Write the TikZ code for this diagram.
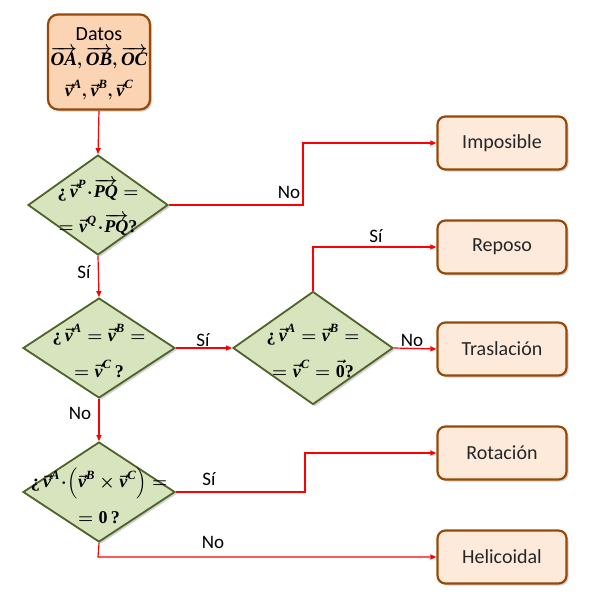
\documentclass[tikz,border=0pt]{standalone}
\usepackage{amsmath}
\usepackage{fontspec}
\setmainfont{Carlito}
\newfontfamily\serifb{Liberation Serif}
\usetikzlibrary{shapes.geometric,arrows.meta,shadows}
\definecolor{brd}{HTML}{984807}
\definecolor{datfill}{HTML}{FBD4B4}
\definecolor{boxfill}{HTML}{FDEADA}
\definecolor{dfill}{HTML}{D7E4BD}
\definecolor{dbrd}{HTML}{4F6228}
\tikzset{
  x=1pt,y=-1pt,
  resbox/.style={draw=brd,line width=2.2pt,rounded corners=8pt,fill=boxfill,
    minimum width=129pt,minimum height=53pt,inner sep=0pt,
    font=\fontsize{20}{24}\selectfont,text=black!85,
    drop shadow={shadow xshift=2pt,shadow yshift=-2pt,opacity=0.35}},
  datbox/.style={draw=brd,line width=2.2pt,rounded corners=10pt,fill=datfill,
    minimum width=102pt,minimum height=95pt,inner sep=0pt,
    drop shadow={shadow xshift=2pt,shadow yshift=-2pt,opacity=0.35}},
  dattext/.style={align=center,inner sep=0pt,font=\fontsize{19}{24}\selectfont\boldmath},
  dec/.style={diamond,draw=dbrd,line width=1.8pt,fill=dfill,inner sep=0pt,
    drop shadow={shadow xshift=2pt,shadow yshift=-2pt,opacity=0.35}},
  dectext/.style={align=center,font=\fontsize{18}{22}\selectfont\boldmath,inner sep=0pt},
  conn/.style={draw=red,line width=1.2pt,-{Triangle[length=6pt,width=5pt]}},
  lbl/.style={font=\fontsize{19}{22}\selectfont,text=black,inner sep=0pt}
}
\newcommand{\bi}[1]{{\serifb\bfseries\itshape #1}}
\newcommand{\vv}[1]{\vec{\text{\bi{v}}}^{\text{\bi{#1}}}}
\newcommand{\ov}[1]{\overrightarrow{\text{\bi{#1}}}}
\newcommand{\inv}{{\serifb\bfseries ¿}}
\newcommand{\qm}{{\serifb\bfseries ?}}
\begin{document}
\begin{tikzpicture}
\useasboundingbox (0,0) rectangle (600,600);
% Datos
\node[datbox] (dat) at (99,62) {};
\node[dattext] (dt1) at (99,34) {\fontsize{20}{24}\selectfont Datos};
\node[dattext] (dt2) at (99,58) {$\ov{OA},\ov{OB},\ov{OC}$};
\node[dattext,font=\fontsize{18}{22}\selectfont\boldmath] (dt3) at (99,90) {$\vv{A},\vv{B},\vv{C}$};
% decisions
\node[dec,minimum width=140pt,minimum height=100pt] (d1) at (98,205) {};
\node[dectext] (t1) at (98,207) {\inv$\,\vv{P}\!\cdot\!\ov{PQ}=$\\[12pt]$=\vv{Q}\!\cdot\!\ov{PQ}$\qm};
\node[dec,minimum width=152pt,minimum height=100pt] (d2) at (99,348) {};
\node[dectext] (t2) at (99,351) {\inv$\,\vv{A}=\vv{B}=$\\[14pt]$=\vv{C}\,$\qm};
\node[dec,minimum width=160pt,minimum height=113pt] (d3) at (313,348) {};
\node[dectext] (t3) at (313,351) {\inv$\,\vv{A}=\vv{B}=$\\[14pt]$=\vv{C}=\vec{\text{\serifb\bfseries 0}}$\qm};
\node[dec,minimum width=152pt,minimum height=100pt] (d4) at (99,492) {};
\node[dectext] (t4) at (99,496) {\inv$\,\vv{A}\!\cdot\!\left(\vv{B}\times\vv{C}\right)=$\\[12pt]$=\text{\serifb\bfseries 0}\,$\qm};
% results
\node[resbox] (imp) at (502,143) {Imposible};
\node[resbox] (rep) at (502,247) {Reposo};
\node[resbox] (tra) at (502,349) {Traslación};
\node[resbox] (rot) at (502,453) {Rotación};
\node[resbox] (hel) at (502,557) {Helicoidal};
% corner coordinates
\coordinate (c1) at (303,205);
\coordinate (c2) at (303,143);
\coordinate (c3) at (313,247);
\coordinate (c4) at (305,492);
\coordinate (c5) at (305,453);
\coordinate (c6) at (98,557);
% connectors
\draw[conn] (dat.south) -- (d1.north);
\draw[conn] (d1.east) -- (c1) -- (c2) -- (imp.west);
\draw[conn] (d1.south) -- (d2.north);
\draw[conn] (d2.east) -- (d3.west);
\draw[conn] (d3.north) -- (c3) -- (rep.west);
\draw[conn] (d3.east) -- (tra.west);
\draw[conn] (d2.south) -- (d4.north);
\draw[conn] (d4.east) -- (c4) -- (c5) -- (rot.west);
\draw[conn] (d4.south) -- (c6) -- (hel.west);
% labels
\node[lbl] (l1) at (289,192) {No};
\node[lbl] (l2) at (84,272) {Sí};
\node[lbl] (l3) at (203,340) {Sí};
\node[lbl] (l4) at (376,236) {Sí};
\node[lbl] (l5) at (412,340) {No};
\node[lbl] (l6) at (80,413) {No};
\node[lbl] (l7) at (209,479) {Sí};
\node[lbl] (l8) at (213,542) {No};
\end{tikzpicture}
\end{document}
